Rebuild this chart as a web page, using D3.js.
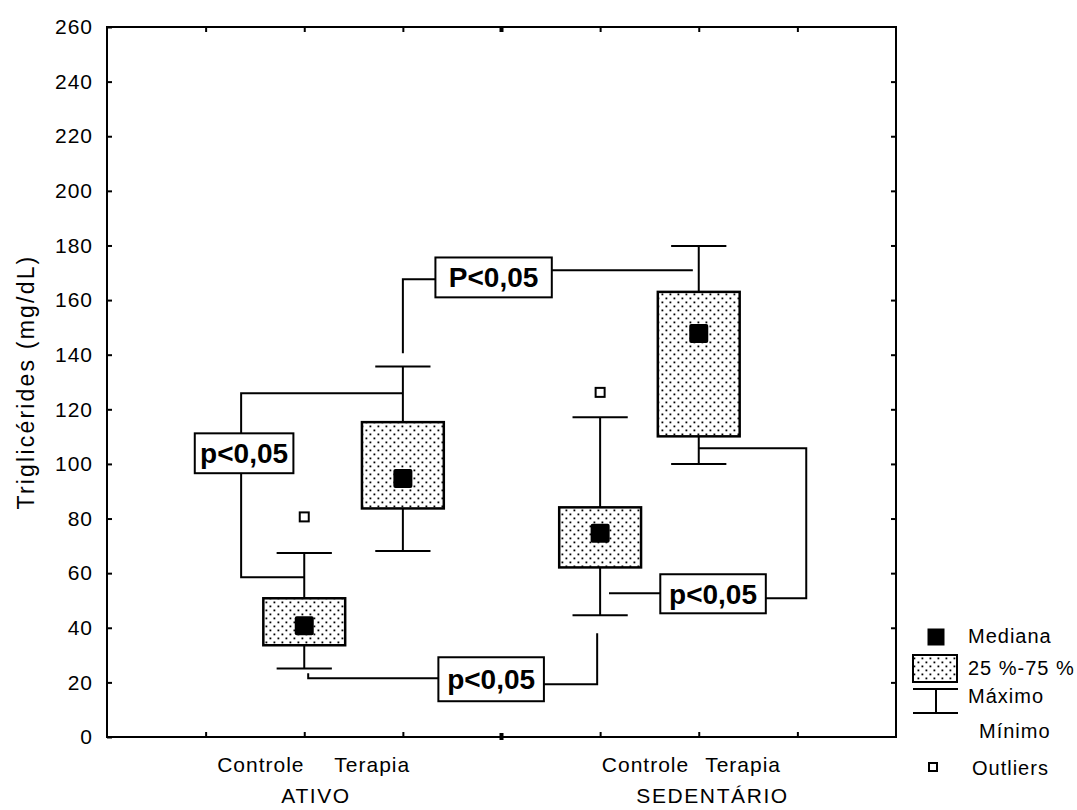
<!DOCTYPE html>
<html lang="pt">
<head>
<meta charset="utf-8">
<title>Triglicérides</title>
<script src="https://d3js.org/d3.v7.min.js"></script>
<style>
  body { margin: 0; background: white; }
  svg text { font-family: "Liberation Sans", Arial, sans-serif; fill: black; }
</style>
</head>
<body>
<script>
// box plot values (mg/dL)
const slots    = [2, 3, 5, 6];           // category slot on the x axis
const mins     = [25.1, 68.1, 44.6, 100.0];
const q1s      = [33.6, 83.7, 62.1, 110.1];
const medians  = [40.7, 94.7, 74.6, 147.8];
const q3s      = [50.8, 115.3, 84.1, 163.0];
const maxs     = [67.4, 135.7, 117.1, 179.8];
const outliers = [80.6, null, 126.2, null];

const yTicks = d3.range(0, 261, 20);
const xTicks = [1, 2, 3, 5, 6, 7];

// category labels under the axis
const subLabels   = ["Controle", "Terapia", "Controle", "Terapia"];
const subLabelAt  = [1.56, 2.69, 5.46, 6.45];
const groupLabels = ["ATIVO", "SEDENTÁRIO"];
const groupLabelAt = [2.12, 6.14];

// significance annotations, in slot / mg/dL units
const sigText = ["P<0,05", "p<0,05", "p<0,05", "p<0,05"];
const sigBoxes = [
  [3.33, 4.51, 161.0, 175.6],
  [0.89, 1.89, 96.6, 111.2],
  [3.36, 4.43, 13.1, 29.2],
  [5.61, 6.68, 45.3, 59.6]
];
const sigLines = [
  [[3.0, 140.5], [3.0, 167.6], [3.33, 167.6]],
  [[4.51, 170.9], [5.94, 170.9]],
  [[1.36, 111.2], [1.36, 125.9], [3.0, 125.9]],
  [[1.36, 96.6], [1.36, 58.5], [2.0, 58.5]],
  [[3.36, 21.5], [2.04, 21.5], [2.04, 23.3]],
  [[4.43, 19.3], [4.97, 19.3], [4.97, 38.0]],
  [[5.09, 52.6], [5.61, 52.6]],
  [[6.68, 50.8], [7.09, 50.8], [7.09, 105.7], [6.0, 105.7]]
];

const legendNames = ["Mediana", "25 %-75 %", "Máximo", "Mínimo", "Outliers"];

const width = 1077, height = 810;
const margin = {top: 27, right: 181, bottom: 73, left: 107};

const x = d3.scaleLinear().domain([0, 8]).range([margin.left, width - margin.right]);
const y = d3.scaleLinear().domain([0, 260]).range([height - margin.bottom, margin.top]);
const unit = x(1) - x(0);
const boxHalf = 0.415 * unit;
const capHalf = 0.28 * unit;

const svg = d3.select("body").append("svg")
  .attr("width", width)
  .attr("height", height);

svg.append("rect").attr("width", width).attr("height", height).attr("fill", "white");

// dotted fill for the boxes
const pat = svg.append("defs").append("pattern")
  .attr("id", "dots")
  .attr("patternUnits", "userSpaceOnUse")
  .attr("width", 8).attr("height", 8);
pat.append("rect").attr("width", 8).attr("height", 8).attr("fill", "white");
pat.append("rect").attr("x", 1.5).attr("y", 1.5).attr("width", 1.8).attr("height", 1.8).attr("fill", "black");
pat.append("rect").attr("x", 5.5).attr("y", 5.5).attr("width", 1.8).attr("height", 1.8).attr("fill", "black");

// frame
svg.append("rect")
  .attr("x", x(0)).attr("y", y(260))
  .attr("width", x(8) - x(0)).attr("height", y(0) - y(260))
  .attr("fill", "none").attr("stroke", "black").attr("stroke-width", 2);

function styleAxis(g) {
  g.select(".domain").remove();
  g.selectAll(".tick line").attr("stroke", "black").attr("stroke-width", 2);
  g.selectAll(".tick text")
    .attr("font-family", "Liberation Sans, Arial, sans-serif")
    .attr("font-size", 21)
    .attr("letter-spacing", 1);
}

svg.append("g")
  .attr("transform", `translate(${x(0)},0)`)
  .call(d3.axisLeft(y).tickValues(yTicks).tickSize(-5).tickPadding(14))
  .call(styleAxis);

svg.append("g")
  .attr("transform", `translate(${x(8)},0)`)
  .call(d3.axisRight(y).tickValues(yTicks.slice(1, -1)).tickSize(-5).tickFormat(""))
  .call(styleAxis);

svg.append("g")
  .attr("transform", `translate(0,${y(0)})`)
  .call(d3.axisBottom(x).tickValues(xTicks).tickSize(-5).tickFormat(""))
  .call(styleAxis);

svg.append("g")
  .attr("transform", `translate(0,${y(260)})`)
  .call(d3.axisTop(x).tickValues(xTicks).tickSize(-5).tickFormat(""))
  .call(styleAxis);

// the middle tick is drawn as a small dot
svg.append("rect").attr("x", x(4) - 2).attr("y", y(0) - 4).attr("width", 4).attr("height", 7).attr("fill", "black");
svg.append("rect").attr("x", x(4) - 2).attr("y", y(260) - 1).attr("width", 4).attr("height", 6).attr("fill", "black");

// y axis title
svg.append("text")
  .attr("transform", `translate(34,${(y(0) + y(260)) / 2}) rotate(-90)`)
  .attr("text-anchor", "middle")
  .attr("font-size", 23)
  .attr("letter-spacing", 2.2)
  .text("Triglicérides (mg/dL)");

// category labels
svg.selectAll(".sub")
  .data(subLabels)
  .enter().append("text")
  .attr("x", (d, i) => x(subLabelAt[i]))
  .attr("y", y(0) + 35)
  .attr("text-anchor", "middle")
  .attr("font-size", 21)
  .attr("letter-spacing", 1)
  .text(d => d);

svg.selectAll(".grp")
  .data(groupLabels)
  .enter().append("text")
  .attr("x", (d, i) => x(groupLabelAt[i]))
  .attr("y", y(0) + 66)
  .attr("text-anchor", "middle")
  .attr("font-size", 21)
  .attr("letter-spacing", 1.6)
  .text(d => d);

// significance brackets
const line = d3.line().x(d => x(d[0])).y(d => y(d[1]));
svg.selectAll(".sig")
  .data(sigLines)
  .enter().append("path")
  .attr("d", line)
  .attr("fill", "none")
  .attr("stroke", "black")
  .attr("stroke-width", 2);

// boxes
const boxes = svg.selectAll(".box")
  .data(slots)
  .enter().append("g");

boxes.append("line")
  .attr("x1", d => x(d)).attr("x2", d => x(d))
  .attr("y1", (d, i) => y(maxs[i])).attr("y2", (d, i) => y(mins[i]))
  .attr("stroke", "black").attr("stroke-width", 2);

boxes.append("line")
  .attr("x1", d => x(d) - capHalf).attr("x2", d => x(d) + capHalf)
  .attr("y1", (d, i) => y(maxs[i])).attr("y2", (d, i) => y(maxs[i]))
  .attr("stroke", "black").attr("stroke-width", 2);

boxes.append("line")
  .attr("x1", d => x(d) - capHalf).attr("x2", d => x(d) + capHalf)
  .attr("y1", (d, i) => y(mins[i])).attr("y2", (d, i) => y(mins[i]))
  .attr("stroke", "black").attr("stroke-width", 2);

boxes.append("rect")
  .attr("x", d => x(d) - boxHalf)
  .attr("y", (d, i) => y(q3s[i]))
  .attr("width", boxHalf * 2)
  .attr("height", (d, i) => y(q1s[i]) - y(q3s[i]))
  .attr("fill", "url(#dots)")
  .attr("stroke", "black").attr("stroke-width", 2.5);

boxes.append("rect")
  .attr("x", d => x(d) - 9.5)
  .attr("y", (d, i) => y(medians[i]) - 9.5)
  .attr("width", 19).attr("height", 19)
  .attr("rx", 2)
  .attr("fill", "black");

svg.selectAll(".outlier")
  .data(slots.filter((d, i) => outliers[i] != null))
  .enter().append("rect")
  .attr("x", d => x(d) - 4.5)
  .attr("y", d => y(outliers[slots.indexOf(d)]) - 4.5)
  .attr("width", 9).attr("height", 9)
  .attr("fill", "white")
  .attr("stroke", "black").attr("stroke-width", 2);

// p-value labels
const sig = svg.selectAll(".sigbox")
  .data(sigBoxes)
  .enter().append("g");

sig.append("rect")
  .attr("x", d => x(d[0]))
  .attr("y", d => y(d[3]))
  .attr("width", d => x(d[1]) - x(d[0]))
  .attr("height", d => y(d[2]) - y(d[3]))
  .attr("fill", "white")
  .attr("stroke", "black").attr("stroke-width", 2);

sig.append("text")
  .attr("x", d => (x(d[0]) + x(d[1])) / 2)
  .attr("y", d => (y(d[2]) + y(d[3])) / 2)
  .attr("dy", "0.36em")
  .attr("text-anchor", "middle")
  .attr("font-size", 28)
  .attr("font-weight", "bold")
  .text((d, i) => sigText[i]);

// legend
const lg = svg.append("g");
lg.append("rect").attr("x", 927.5).attr("y", 628.5).attr("width", 17).attr("height", 17).attr("fill", "black");
lg.append("rect").attr("x", 913).attr("y", 655).attr("width", 44).attr("height", 27)
  .attr("fill", "url(#dots)").attr("stroke", "black").attr("stroke-width", 2);
lg.append("path").attr("d", "M913,689H958M936,689V713M913,713H958")
  .attr("fill", "none").attr("stroke", "black").attr("stroke-width", 2);
lg.append("rect").attr("x", 929).attr("y", 763).attr("width", 8).attr("height", 8)
  .attr("fill", "white").attr("stroke", "black").attr("stroke-width", 2);

const legendX = [968, 968, 968, 979, 972];
const legendY = [643, 675, 703, 738, 775];
lg.selectAll("text")
  .data(legendNames)
  .enter().append("text")
  .attr("x", (d, i) => legendX[i])
  .attr("y", (d, i) => legendY[i])
  .attr("font-size", 20)
  .attr("letter-spacing", 1)
  .text(d => d);
</script>
</body>
</html>
